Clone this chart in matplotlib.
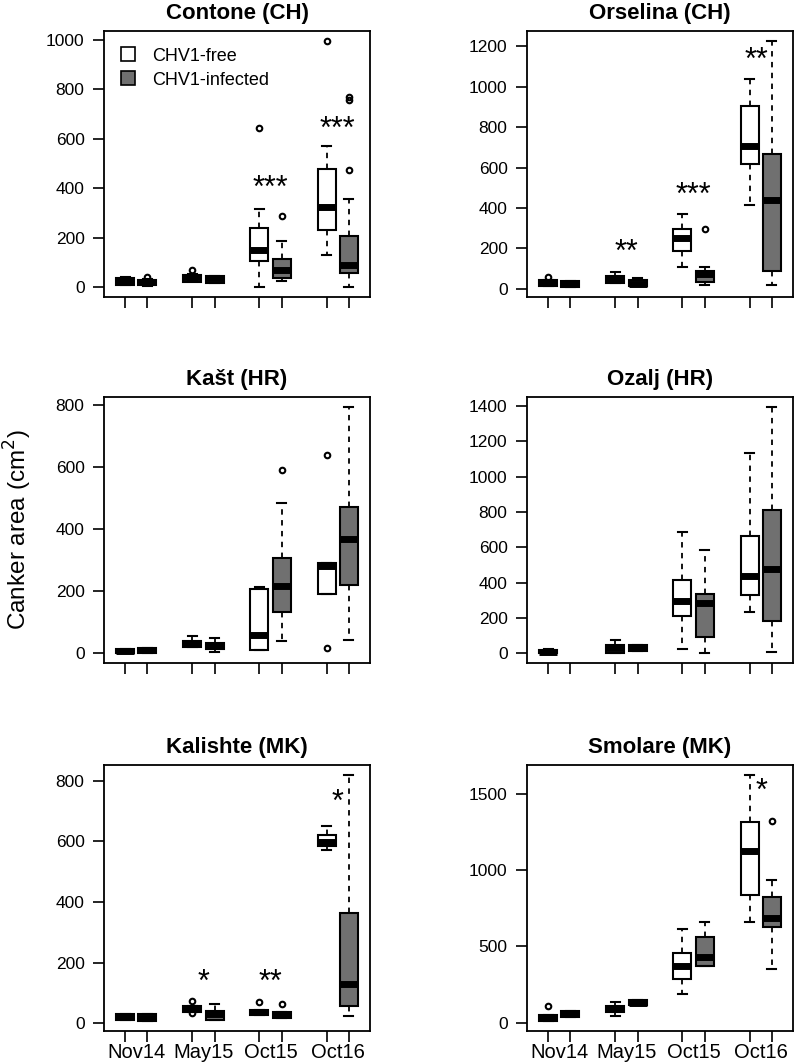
import matplotlib
matplotlib.use("Agg")
import matplotlib.pyplot as plt
from matplotlib.lines import Line2D

plt.rcParams['font.family'] = ['Liberation Sans', 'DejaVu Sans']

# box positions: free / infected pairs for each survey
positions = [1, 2, 4, 5, 7, 8, 10, 11]
surveys = ['Nov14', 'May15', 'Oct15', 'Oct16']
survey_pos = [1.5, 4.5, 7.5, 10.5]

# each box: [whislo, q1, med, q3, whishi]
contone_free = [[10, 8, 25, 38, 40], [25, 22, 40, 48, 55], [0, 105, 152, 237, 315], [129, 230, 322, 478, 571]]
contone_inf = [[5, 8, 20, 30, 32], [15, 15, 35, 44, 47], [24, 35, 71, 114, 188], [0, 59, 89, 206, 358]]
contone_free_out = [[], [71], [641], [995]]
contone_inf_out = [[40], [], [287], [475, 755, 770]]
contone_stars = [(7.5, 395, '***'), (10.5, 636, '***')]

orselina_free = [[13, 13, 28, 44, 44], [28, 28, 45, 63, 82], [107, 188, 250, 296, 370], [416, 616, 708, 904, 1040]]
orselina_inf = [[7, 7, 22, 36, 36], [13, 13, 25, 40, 53], [16, 33, 72, 86, 107], [16, 89, 440, 668, 1228]]
orselina_free_out = [[58], [], [], []]
orselina_inf_out = [[], [], [296], []]
orselina_stars = [(4.5, 178, '**'), (7.5, 458, '***'), (10.3, 1127, '**')]

kast_free = [[0, 0, 8, 15, 15], [20, 19, 30, 38, 54], [9, 9, 57, 207, 212], [190, 190, 282, 291, 291]]
kast_inf = [[0, 0, 10, 18, 18], [3, 12, 22, 33, 48], [38, 132, 218, 306, 484], [43, 220, 368, 473, 795]]
kast_free_out = [[], [], [], [639, 16]]
kast_inf_out = [[], [], [591], []]
kast_stars = []

ozalj_free = [[0, 0, 8, 18, 25], [0, 0, 28, 45, 72], [25, 208, 297, 412, 689], [235, 329, 439, 662, 1135]]
ozalj_inf = [None, [15, 15, 30, 45, 45], [0, 89, 284, 335, 583], [9, 184, 477, 813, 1396]]
ozalj_free_out = [[], [], [], []]
ozalj_inf_out = [[], [], [], []]
ozalj_stars = []

kalishte_free = [[12, 12, 21, 30, 30], [36, 36, 47, 58, 58], [27, 27, 37, 45, 45], [570, 583, 598, 622, 652]]
kalishte_inf = [[7, 7, 18, 30, 30], [12, 12, 30, 40, 65], [16, 16, 27, 36, 36], [23, 58, 131, 364, 819]]
kalishte_free_out = [[], [72, 33], [69], []]
kalishte_inf_out = [[], [], [65], []]
kalishte_stars = [(4.5, 132, '*'), (7.5, 132, '**'), (10.5, 726, '*')]

smolare_free = [[11, 11, 30, 50, 50], [46, 72, 92, 111, 137], [187, 285, 372, 459, 611], [659, 839, 1122, 1311, 1622]]
smolare_inf = [[41, 41, 60, 76, 76], [115, 115, 130, 150, 150], [372, 372, 433, 561, 661], [350, 624, 687, 820, 937]]
smolare_free_out = [[111], [], [], []]
smolare_inf_out = [[], [], [], [1317]]
smolare_stars = [(10.55, 1512, '*')]

sites = [
    ('Contone (CH)', contone_free, contone_inf, contone_free_out, contone_inf_out, contone_stars, 1000, 200),
    ('Orselina (CH)', orselina_free, orselina_inf, orselina_free_out, orselina_inf_out, orselina_stars, 1200, 200),
    ('Kašt (HR)', kast_free, kast_inf, kast_free_out, kast_inf_out, kast_stars, 800, 200),
    ('Ozalj (HR)', ozalj_free, ozalj_inf, ozalj_free_out, ozalj_inf_out, ozalj_stars, 1400, 200),
    ('Kalishte (MK)', kalishte_free, kalishte_inf, kalishte_free_out, kalishte_inf_out, kalishte_stars, 800, 200),
    ('Smolare (MK)', smolare_free, smolare_inf, smolare_free_out, smolare_inf_out, smolare_stars, 1500, 500),
]

GREY = '#707070'


def to_stats(boxes, outs):
    stats, pos = [], []
    for i, (b, o) in enumerate(zip(boxes, outs)):
        if b is None:
            continue
        stats.append(dict(whislo=b[0], q1=b[1], med=b[2], q3=b[3], whishi=b[4], fliers=o))
        pos.append(i)
    return stats, pos


fig = plt.figure(figsize=(7.95, 10.64), dpi=100)
lefts = [104 / 795, 527 / 795]
bottoms = [1 - 297 / 1064, 1 - 663 / 1064, 1 - 1031 / 1064]
w = 266 / 795
h = 266 / 1064

for k, (title, free, inf, free_out, inf_out, stars, ytop, step) in enumerate(sites):
    row, col = divmod(k, 2)
    ax = fig.add_axes([lefts[col], bottoms[row], w, h])

    for boxes, outs, offset, fc in [(free, free_out, 0, 'white'), (inf, inf_out, 1, GREY)]:
        stats, idx = to_stats(boxes, outs)
        ax.bxp(stats, positions=[positions[2 * i + offset] for i in idx], widths=0.8,
               capwidths=0.4, patch_artist=True, manage_ticks=False,
               boxprops=dict(facecolor=fc, edgecolor='black', linewidth=1.5),
               medianprops=dict(color='black', linewidth=5, solid_capstyle='butt'),
               whiskerprops=dict(color='black', linewidth=1.3, linestyle=(0, (3, 3))),
               capprops=dict(color='black', linewidth=1.5),
               flierprops=dict(marker='o', markersize=4, markerfacecolor='none',
                               markeredgecolor='black', markeredgewidth=1.5))

    # R style axis range: data range + 4 %
    vals = [v for b in free + inf if b is not None for v in (b[0], b[4])]
    vals += [v for o in free_out + inf_out for v in o]
    lo, hi = min(vals), max(vals)
    pad = 0.04 * (hi - lo)
    ax.set_ylim(lo - pad, hi + pad)
    ax.set_xlim(0.06, 11.94)
    ax.set_yticks(range(0, ytop + 1, step))

    for x, y, s in stars:
        ax.text(x, y, s, ha='center', va='center', fontsize=22)

    ax.set_xticks(positions)
    ax.set_xticklabels([])
    if row == 2:
        ax.set_xticks(survey_pos, minor=True)
        ax.set_xticklabels(surveys, minor=True, fontsize=14.5)
    ax.tick_params(which='major', length=8, width=1.2, labelsize=12.5, pad=6)
    ax.tick_params(which='minor', length=0, pad=9)
    for sp in ax.spines.values():
        sp.set_linewidth(1.3)
    ax.set_title(title, fontsize=16, fontweight='bold', pad=9)

    if k == 0:
        handles = [Line2D([], [], marker='s', linestyle='none', markersize=10,
                          markerfacecolor=c, markeredgecolor='black', markeredgewidth=1.2)
                   for c in ('white', GREY)]
        ax.legend(handles, ['CHV1-free', 'CHV1-infected'], loc='upper left',
                  bbox_to_anchor=(0.03, 0.965), frameon=False, fontsize=13,
                  handlelength=1, handletextpad=0.8, labelspacing=0.4, borderaxespad=0)

fig.text(18 / 795, 1 - 530 / 1064, 'Canker area (cm$^2$)', rotation=90,
         ha='center', va='center', fontsize=17.5)

fig.savefig('out.png', dpi=100)
